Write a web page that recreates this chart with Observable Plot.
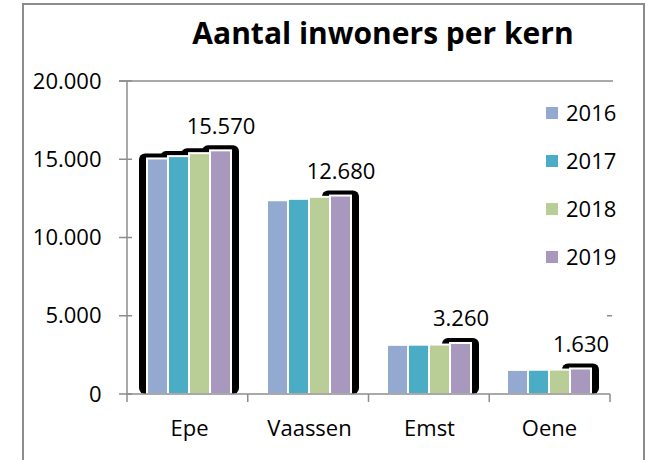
<!DOCTYPE html>
<html><head><meta charset="utf-8">
<script src="https://cdn.jsdelivr.net/npm/d3@7"></script>
<script src="https://cdn.jsdelivr.net/npm/@observablehq/plot@0.6"></script>
<style>
body{margin:0;background:#fff;}
#wrap{position:relative;width:651px;height:460px;overflow:hidden;}
#border{position:absolute;left:22px;top:3px;width:623px;height:480px;border:2px solid #8c8c8c;box-sizing:border-box;pointer-events:none;}
#chart{position:absolute;left:0;top:0;}
</style>
</head><body>
<div id="wrap"><div id="chart"></div><div id="border"></div></div>
<script>
const titel = "Aantal inwoners per kern";
const kernen = ["Epe", "Vaassen", "Emst", "Oene"];
const jaren = ["2016", "2017", "2018", "2019"];
const epe = [15050, 15200, 15390, 15570];
const vaassen = [12380, 12470, 12600, 12680];
const emst = [3140, 3150, 3160, 3260];
const oene = [1540, 1550, 1560, 1630];
const yTicks = [0, 5000, 10000, 15000, 20000];
const kleuren = ["#94a9cf", "#4bacc6", "#b9cd96", "#a898be"];

const series = {Epe: epe, Vaassen: vaassen, Emst: emst, Oene: oene};
const rows = kernen.flatMap(k => jaren.map((j, i) => ({kern: k, jaar: j, value: series[k][i]})));
const shadowRows = rows.filter(d => d.kern === "Epe" || d.jaar === "2019");
const labelRows = rows.filter(d => d.jaar === "2019");

const nl = d3.formatLocale({decimal: ",", thousands: ".", grouping: [3], currency: ["€", ""]});
const fmt = nl.format(",d");

const W = 651, H = 460;
const plot = Plot.plot({
  width: W, height: H,
  marginLeft: 127, marginRight: 41, marginTop: 81, marginBottom: 66,
  style: {fontFamily: "Open Sans", fontSize: "22px", color: "black", background: "transparent", overflow: "visible"},
  fx: {domain: kernen, padding: 0, label: null, tickSize: 0, tickPadding: 26, axis: "bottom"},
  x: {domain: jaren, paddingInner: 0, paddingOuter: 0.75, axis: null},
  y: {domain: [0, 20000], ticks: yTicks, tickFormat: fmt, tickSize: 0, tickPadding: 28, label: null},
  color: {domain: jaren, range: kleuren},
  marks: [
    Plot.barY(shadowRows, {fx: "kern", x: "jaar", y: "value", fill: "black", insetLeft: -8, insetRight: -8, insetTop: -5, rx: 6}),
    Plot.barY(rows, {fx: "kern", x: "jaar", y: "value", fill: "jaar", stroke: "white", strokeWidth: 2}),
    Plot.text(labelRows, {fx: "kern", x: "jaar", y: "value", text: d => fmt(d.value), lineAnchor: "bottom", dy: -17, fontSize: 22})
  ]
});
document.getElementById("chart").appendChild(plot);

const svg = d3.select(plot);
const ys = plot.scale("y");
const y = d3.scaleLinear(ys.domain, ys.range);
const fs = plot.scale("fx");
const fx = d3.scaleBand(fs.domain, fs.range).paddingInner(fs.paddingInner || 0).paddingOuter(fs.paddingOuter || 0);
const x0 = fs.range[0], x1 = fs.range[1];
const g = svg.append("g").attr("stroke", "#8c8c8c").attr("stroke-width", 1.5).attr("fill", "none");
g.append("line").attr("x1", x0).attr("x2", x0).attr("y1", y(20000)).attr("y2", y(0) + 8);
g.append("line").attr("x1", x0 - 8).attr("x2", x1 + 3).attr("y1", y(20000)).attr("y2", y(20000));
for (const t of yTicks) g.append("line").attr("x1", x0 - 8).attr("x2", x0 + 5).attr("y1", y(t)).attr("y2", y(t));
g.append("line").attr("x1", x0).attr("x2", x1).attr("y1", y(0)).attr("y2", y(0));
for (const k of kernen) {
  const xx = fx(k) + fx.bandwidth();
  g.append("line").attr("x1", xx).attr("x2", xx).attr("y1", y(0)).attr("y2", y(0) + 8);
}
g.append("line").attr("x1", x1 - 3).attr("x2", x1 + 2).attr("y1", y(5000)).attr("y2", y(5000));

svg.append("text").attr("x", 383).attr("y", 44).attr("text-anchor", "middle")
  .attr("font-family", "Open Sans").attr("font-weight", "bold").attr("font-size", 30).attr("fill", "black").text(titel);

const leg = svg.append("g").attr("font-family", "Open Sans").attr("font-size", 22).attr("text-anchor", "start");
jaren.forEach((j, i) => {
  const cy = 113 + i * 48;
  leg.append("rect").attr("x", 546).attr("y", cy - 6).attr("width", 12).attr("height", 12).attr("fill", kleuren[i]);
  leg.append("text").attr("x", 566).attr("y", cy).attr("dy", "0.36em").attr("fill", "black").text(j);
});
</script>
</body></html>
